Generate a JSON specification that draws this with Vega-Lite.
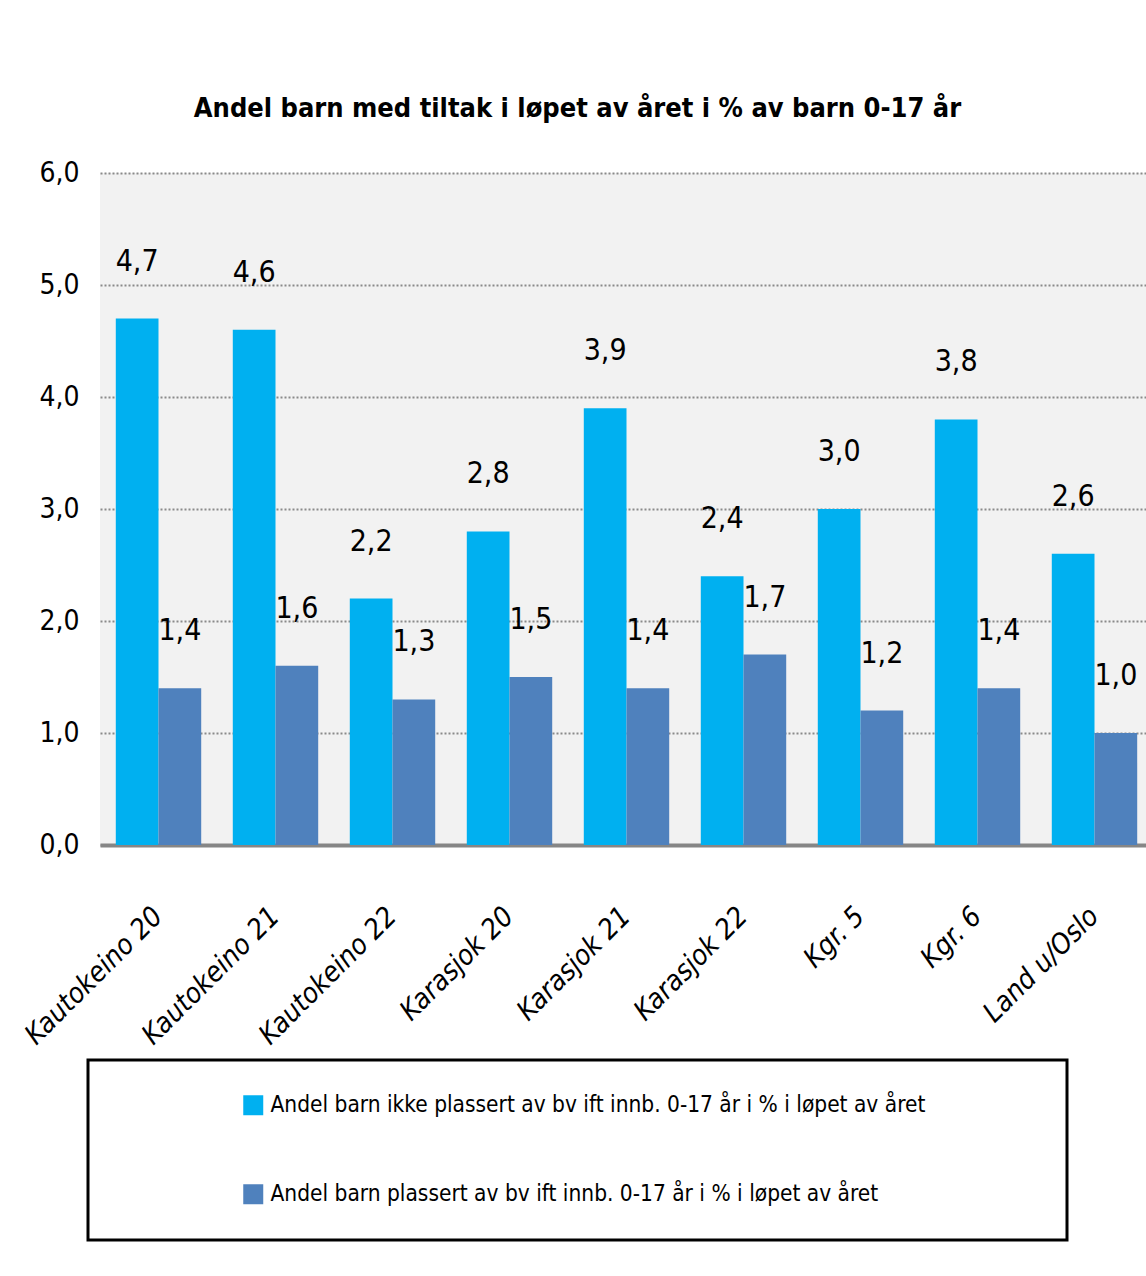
{
  "$schema": "https://vega.github.io/schema/vega-lite/v6.json",
  "width": 1053,
  "height": 672,
  "autosize": "none",
  "padding": {"left": 100, "top": 173, "right": 0, "bottom": 431},
  "background": "white",
  "title": {
    "text": "Andel barn med tiltak i løpet av året i % av barn 0-17 år",
    "anchor": "middle",
    "dx": -49,
    "offset": 36,
    "fontSize": 27,
    "font": "'DejaVu Sans Condensed', 'Liberation Sans Narrow', 'Open Sans', sans-serif",
    "fontWeight": "bold",
    "color": "black"
  },
  "data": {
    "values": [
      {"cat": "Kautokeino 20", "series": "Andel barn ikke plassert av bv ift innb. 0-17 år i % i løpet av året", "value": 4.7},
      {"cat": "Kautokeino 20", "series": "Andel barn plassert av bv ift innb. 0-17 år i % i løpet av året", "value": 1.4},
      {"cat": "Kautokeino 21", "series": "Andel barn ikke plassert av bv ift innb. 0-17 år i % i løpet av året", "value": 4.6},
      {"cat": "Kautokeino 21", "series": "Andel barn plassert av bv ift innb. 0-17 år i % i løpet av året", "value": 1.6},
      {"cat": "Kautokeino 22", "series": "Andel barn ikke plassert av bv ift innb. 0-17 år i % i løpet av året", "value": 2.2},
      {"cat": "Kautokeino 22", "series": "Andel barn plassert av bv ift innb. 0-17 år i % i løpet av året", "value": 1.3},
      {"cat": "Karasjok 20", "series": "Andel barn ikke plassert av bv ift innb. 0-17 år i % i løpet av året", "value": 2.8},
      {"cat": "Karasjok 20", "series": "Andel barn plassert av bv ift innb. 0-17 år i % i løpet av året", "value": 1.5},
      {"cat": "Karasjok 21", "series": "Andel barn ikke plassert av bv ift innb. 0-17 år i % i løpet av året", "value": 3.9},
      {"cat": "Karasjok 21", "series": "Andel barn plassert av bv ift innb. 0-17 år i % i løpet av året", "value": 1.4},
      {"cat": "Karasjok 22", "series": "Andel barn ikke plassert av bv ift innb. 0-17 år i % i løpet av året", "value": 2.4},
      {"cat": "Karasjok 22", "series": "Andel barn plassert av bv ift innb. 0-17 år i % i løpet av året", "value": 1.7},
      {"cat": "Kgr. 5", "series": "Andel barn ikke plassert av bv ift innb. 0-17 år i % i løpet av året", "value": 3.0},
      {"cat": "Kgr. 5", "series": "Andel barn plassert av bv ift innb. 0-17 år i % i løpet av året", "value": 1.2},
      {"cat": "Kgr. 6", "series": "Andel barn ikke plassert av bv ift innb. 0-17 år i % i løpet av året", "value": 3.8},
      {"cat": "Kgr. 6", "series": "Andel barn plassert av bv ift innb. 0-17 år i % i løpet av året", "value": 1.4},
      {"cat": "Land u/Oslo", "series": "Andel barn ikke plassert av bv ift innb. 0-17 år i % i løpet av året", "value": 2.6},
      {"cat": "Land u/Oslo", "series": "Andel barn plassert av bv ift innb. 0-17 år i % i løpet av året", "value": 1.0}
    ]
  },
  "encoding": {
    "x": {
      "field": "cat",
      "type": "nominal",
      "sort": null,
      "scale": {"paddingInner": 0.27, "paddingOuter": 0.135},
      "axis": {
        "title": null,
        "labelAngle": -45,
        "labelAlign": "right",
        "labelBaseline": "middle",
        "labelFontSize": 28,
        "labelFontStyle": "italic",
        "labelFont": "'DejaVu Sans Condensed', 'Liberation Sans Narrow', 'Open Sans', sans-serif",
        "labelColor": "black",
        "labelPadding": 67,
        "labelLimit": 0,
        "ticks": false,
        "domainColor": "#868686",
        "domainWidth": 4
      }
    },
    "xOffset": {
      "field": "series",
      "type": "nominal",
      "sort": [
        "Andel barn ikke plassert av bv ift innb. 0-17 år i % i løpet av året",
        "Andel barn plassert av bv ift innb. 0-17 år i % i løpet av året"
      ],
      "scale": {"paddingInner": 0, "paddingOuter": 0}
    },
    "y": {
      "field": "value",
      "type": "quantitative",
      "scale": {"domain": [0, 6]},
      "axis": {
        "title": null,
        "values": [0, 1, 2, 3, 4, 5, 6],
        "format": ".1f",
        "domain": false,
        "ticks": false,
        "labelFontSize": 28,
        "labelFont": "'DejaVu Sans Condensed', 'Liberation Sans Narrow', 'Open Sans', sans-serif",
        "labelColor": "black",
        "labelPadding": 21,
        "grid": true,
        "gridDash": [2, 2],
        "gridColor": "#8a8a8a",
        "gridWidth": 2
      }
    }
  },
  "layer": [
    {
      "mark": {"type": "bar"},
      "encoding": {
        "color": {
          "field": "series",
          "type": "nominal",
          "scale": {
            "domain": [
              "Andel barn ikke plassert av bv ift innb. 0-17 år i % i løpet av året",
              "Andel barn plassert av bv ift innb. 0-17 år i % i løpet av året"
            ],
            "range": ["#00B0F0", "#4F81BD"]
          },
          "legend": {
            "title": " ",
            "titleOrient": "right",
            "titlePadding": 108,
            "orient": "none",
            "legendX": -12,
            "legendY": 887,
            "direction": "vertical",
            "strokeColor": "black",
            "fillColor": "white",
            "padding": 34,
            "symbolType": "square",
            "symbolSize": 400,
            "symbolOffset": 120,
            "symbolStrokeWidth": 0,
            "labelFontSize": 22.5,
            "labelFont": "'DejaVu Sans Condensed', 'Liberation Sans Narrow', 'Open Sans', sans-serif",
            "labelColor": "black",
            "labelOffset": 6,
            "labelLimit": 0,
            "rowPadding": 66
          }
        }
      }
    },
    {
      "mark": {
        "type": "text",
        "dy": -48,
        "baseline": "alphabetic",
        "fontSize": 30,
        "font": "'DejaVu Sans Condensed', 'Liberation Sans Narrow', 'Open Sans', sans-serif",
        "color": "black"
      },
      "encoding": {
        "text": {"field": "value", "type": "quantitative", "format": ".1f"}
      }
    }
  ],
  "config": {
    "locale": {
      "number": {"decimal": ",", "thousands": " ", "grouping": [3], "currency": ["", " kr"]}
    },
    "view": {"fill": "#F2F2F2", "stroke": null},
    "legend": {"strokeWidth": 3}
  }
}
